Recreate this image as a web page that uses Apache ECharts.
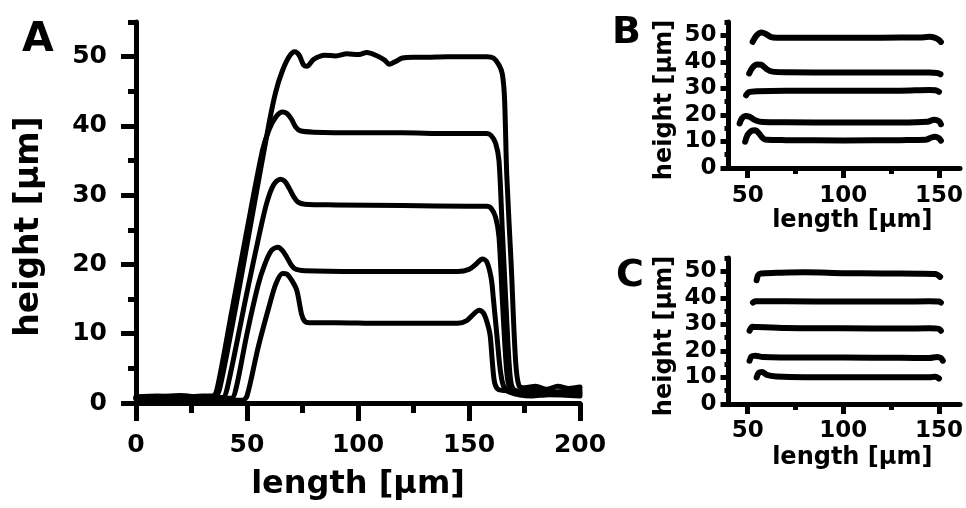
<!DOCTYPE html>
<html>
<head>
<meta charset="utf-8">
<script src="https://cdn.jsdelivr.net/npm/echarts@6/dist/echarts.min.js"></script>
<style>
html, body { margin: 0; padding: 0; background: #fff; }
#chart { width: 966px; height: 508px; }
</style>
</head>
<body>
<div id="chart"></div>
<script>
// panel A: height profiles [length, height]
var aProfile50 = [[0,0.9],[10,1.0],[20,0.8],[30,1.0],[36,1.0],[38,2.5],[45,14],[52,26.4],[60,40.5],[63,45],[66,48],[69,50],[71.5,50.7],[73.5,50.2],[75.5,48.8],[77,48.6],[80,49.6],[85,50.2],[90,50.1],[95,50.4],[100,50.3],[104,50.6],[108,50.2],[112,49.5],[114,48.9],[117,49.3],[120,49.8],[125,49.9],[130,49.9],[140,50],[150,50],[158,50],[161,49.8],[163.5,48.8],[165,47.5],[166,44],[167,33],[169,20],[171,6],[172.5,2.5],[175,2.2],[180,2.4],[185,2.0],[190,2.4],[195,2.1],[200,2.3]];
var aProfile40 = [[0,0.7],[10,0.9],[20,1.1],[30,0.8],[34.5,0.9],[36.5,2],[43,13],[50,25],[57,36.5],[60,39.5],[63,41.3],[66,42],[68,41.8],[70,41],[72,39.8],[74,39.3],[80,39.1],[100,39],[120,39],[140,38.9],[158,38.9],[160,38.6],[162,37.5],[163.5,35],[165,25],[167,12],[168.5,4],[170,2],[175,1.6],[182,1.9],[190,1.6],[200,1.9]];
var aProfile30 = [[0,0.6],[10,0.8],[20,0.7],[30,0.9],[39,0.8],[41,2],[50,16],[56,25],[59,29],[62,31.5],[65,32.3],[67,32],[69,31],[71,29.8],[73,29],[76,28.7],[90,28.6],[120,28.5],[150,28.4],[158,28.4],[160,28.1],[162,26.8],[163.5,24],[165,15],[167,4.5],[168.5,2],[172,1.3],[180,1.2],[188,1.5],[200,1.3]];
var aProfile20 = [[0,0.8],[10,0.6],[20,0.9],[30,0.7],[43,0.7],[45,2],[50,10],[55,17],[58,20],[61,22],[64,22.5],[66,22],[68,21],[70,19.9],[72,19.3],[76,19.1],[100,19],[130,19],[145,19],[150,19.3],[153,20],[156,20.8],[158,20.4],[160,18],[161,15],[162.5,10],[164,5],[165.5,2.5],[168,1.6],[178,1.0],[186,1.2],[200,1.0]];
var aProfile10 = [[0,0.5],[10,0.7],[20,0.6],[30,0.5],[40,0.5],[48,0.4],[50,1],[55,8],[60,14],[63,17.2],[66,18.7],[68,18.6],[70,17.8],[72.4,16.3],[74.6,12.8],[76,11.8],[78,11.6],[90,11.6],[110,11.5],[130,11.5],[145,11.5],[149,11.9],[152,12.8],[154.5,13.4],[156.5,13],[158,11.8],[159.5,9.8],[160.5,6],[161.5,3],[163,2],[166,1.8],[172,1.7],[180,1.4],[190,1.6],[200,1.5]];

// panel B profiles
var bProfile50 = [[52.6,47.5],[54.5,49.8],[57.3,51],[59.5,50.5],[62,49.4],[65,49.1],[80,49.1],[100,49.1],[120,49.1],[140,49.2],[145,49.4],[148,49],[150,48.2],[151,47.5]];
var bProfile40 = [[50.8,35.6],[52.5,37.8],[55,39],[57,38.9],[60,37.2],[63,36.3],[70,36.1],[100,36],[130,36],[145,36],[149,35.8],[150.8,35.3]];
var bProfile30 = [[49.2,27.4],[50.5,28.5],[55,28.9],[70,29.1],[100,29.1],[130,29.1],[145,29.4],[148,29.3],[150,28.7]];
var bProfile20 = [[45.8,16.8],[47,18.7],[48.7,19.6],[51,19.3],[54,18],[58,17.3],[70,17.2],[100,17.1],[130,17.1],[144,17.4],[147.5,18.2],[150,17.6],[151,16.5]];
var bProfile10 = [[48.7,9.9],[50,12.5],[52,14],[54,14.2],[56,13],[58,11.2],[60,10.6],[70,10.5],[100,10.4],[130,10.5],[143,10.6],[146,11.5],[148,11.8],[150,11.2],[151,10.3]];

// panel C profiles
var cProfile50 = [[54.7,46.6],[55.5,48.6],[57,49.2],[65,49.4],[80,49.6],[100,49.3],[120,49.2],[140,49.1],[148,49],[150.6,47.9]];
var cProfile40 = [[52.8,38.2],[54,38.7],[70,38.7],[100,38.6],[130,38.6],[145,38.7],[150,38.6],[151,38.2]];
var cProfile30 = [[51,27.6],[52.5,29.1],[55,29],[70,28.6],[100,28.5],[130,28.4],[145,28.5],[150,28.3],[151,27.6]];
var cProfile20 = [[51,16.3],[52,17.9],[54,18.2],[58,17.7],[80,17.5],[100,17.5],[130,17.4],[145,17.3],[149,17.7],[151,17.3],[152,16.3]];
var cProfile10 = [[54.7,10],[55.8,11.7],[57.5,12.1],[60,11],[65,10.4],[80,10.1],[100,10.1],[130,10.1],[145,10.1],[148,10.3],[150,9.6]];

// ticks
var aXTicks = [0, 50, 100, 150, 200];
var aXMinor = [25, 75, 125, 175];
var aYTicks = [0, 10, 20, 30, 40, 50];
var aYMinor = [5, 15, 25, 35, 45, 55];
var bcXTicks = [50, 100, 150];
var bcXMinor = [75, 125];
var bcYTicks = [0, 10, 20, 30, 40, 50];
var bcYMinor = [5, 15, 25, 35, 45, 55];

var FONT = 'DejaVu Sans';
var chart = echarts.init(document.getElementById('chart'));

function axis(pos, gi, min, max, ticks, lw, tickLen, lblSize, lblMargin, name, nameSize, nameGap, namePad) {
  return {
    type: 'value', position: pos, gridIndex: gi, min: min, max: max,
    axisLine: {show: true, onZero: false, lineStyle: {color: '#000', width: lw}},
    axisTick: {show: true, customValues: ticks, length: tickLen, lineStyle: {color: '#000', width: lw}},
    axisLabel: {show: true, customValues: ticks, margin: lblMargin, color: '#000',
      fontFamily: FONT, fontWeight: 'bold', fontSize: lblSize},
    splitLine: {show: false},
    name: name, nameLocation: 'middle', nameGap: nameGap,
    nameTextStyle: {color: '#000', fontFamily: FONT, fontWeight: 'bold', fontSize: nameSize, padding: namePad}
  };
}
function minorAxis(pos, gi, min, max, ticks, lw, tickLen) {
  return {
    type: 'value', position: pos, gridIndex: gi, min: min, max: max,
    axisLine: {show: false},
    axisTick: {show: true, customValues: ticks, length: tickLen, lineStyle: {color: '#000', width: lw}},
    axisLabel: {show: false},
    splitLine: {show: false}
  };
}
function line(data, xi, w) {
  return {
    type: 'line', xAxisIndex: xi, yAxisIndex: xi, data: data,
    showSymbol: false, smooth: 0.3, animation: false,
    lineStyle: {color: '#000', width: w, cap: 'round', join: 'round'}
  };
}

var option = {
  backgroundColor: '#fff',
  animation: false,
  title: [
    {text: 'A', left: 22, top: 20, padding: 0, textStyle: {fontFamily: FONT, fontWeight: 'bold', fontSize: 41, color: '#000'}},
    {text: 'B', left: 612, top: 14, padding: 0, textStyle: {fontFamily: FONT, fontWeight: 'bold', fontSize: 38, color: '#000'}},
    {text: 'C', left: 616, top: 257, padding: 0, textStyle: {fontFamily: FONT, fontWeight: 'bold', fontSize: 38, color: '#000'}}
  ],
  grid: [
    {left: 136, top: 22, width: 444, height: 381},
    {left: 728.5, top: 22, width: 236, height: 146},
    {left: 728.5, top: 258, width: 236, height: 146}
  ],
  xAxis: [
    axis('bottom', 0, 0, 200, aXTicks, 5, 18, 25, 30, 'length [µm]', 32, 66, 0),
    minorAxis('bottom', 0, 0, 200, aXMinor, 5, 10),
    axis('bottom', 1, 40, 161, bcXTicks, 5, 10, 23, 17, 'length [µm]', 24, 26, [0, 0, 0, 16]),
    minorAxis('bottom', 1, 40, 161, bcXMinor, 5, 6),
    axis('bottom', 2, 40, 161, bcXTicks, 5, 10, 23, 16, 'length [µm]', 24, 42, [0, 0, 0, 16]),
    minorAxis('bottom', 2, 40, 161, bcXMinor, 5, 6)
  ],
  yAxis: [
    axis('left', 0, 0, 55, aYTicks, 5, 15, 25, 29, 'height [µm]', 33, 90, [0, 28, 0, 0]),
    minorAxis('left', 0, 0, 55, aYMinor, 5, 8),
    axis('left', 1, 0, 55, bcYTicks, 5, 8, 23, 12, 'height [µm]', 24, 52, [0, 10, 0, 0]),
    minorAxis('left', 1, 0, 55, bcYMinor, 5, 4),
    axis('left', 2, 0, 55, bcYTicks, 5, 8, 23, 12, 'height [µm]', 24, 52, [0, 10, 0, 0]),
    minorAxis('left', 2, 0, 55, bcYMinor, 5, 4)
  ],
  series: [
    line(aProfile50, 0, 5), line(aProfile40, 0, 5), line(aProfile30, 0, 5),
    line(aProfile20, 0, 5), line(aProfile10, 0, 5),
    line(bProfile50, 2, 6), line(bProfile40, 2, 6), line(bProfile30, 2, 6),
    line(bProfile20, 2, 6), line(bProfile10, 2, 6),
    line(cProfile50, 4, 6), line(cProfile40, 4, 6), line(cProfile30, 4, 6),
    line(cProfile20, 4, 6), line(cProfile10, 4, 6)
  ]
};
chart.setOption(option);
</script>
</body>
</html>
